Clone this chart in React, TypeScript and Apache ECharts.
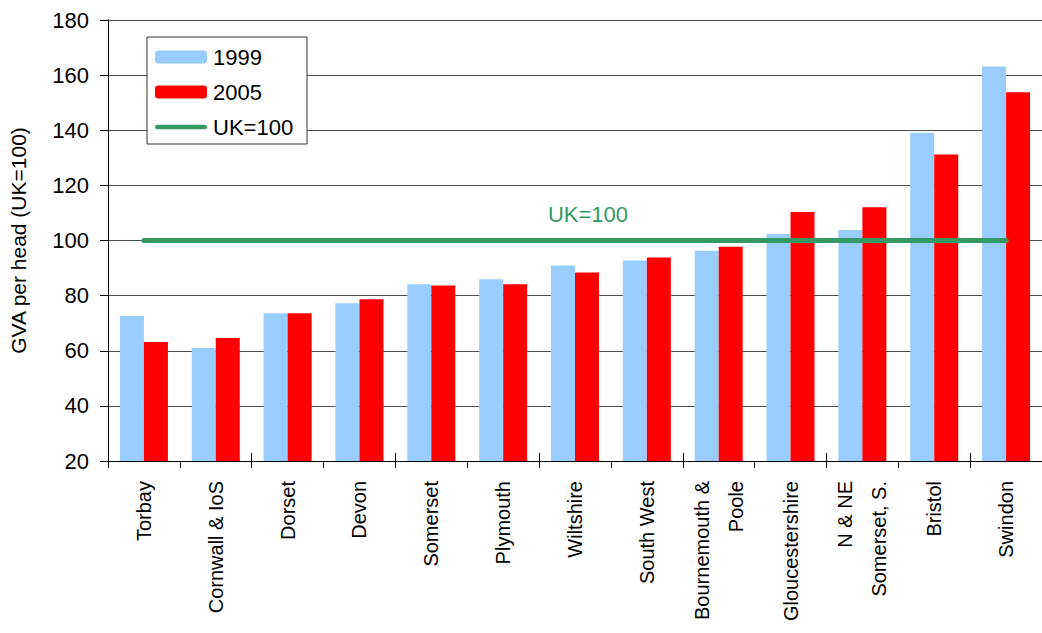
import React, { useEffect, useRef } from "react";
import * as echarts from "echarts";

const categories = [
  "Torbay",
  "Cornwall & IoS",
  "Dorset",
  "Devon",
  "Somerset",
  "Plymouth",
  "Wiltshire",
  "South West",
  "Bournemouth &\nPoole",
  "Gloucestershire",
  "N & NE\nSomerset, S.",
  "Bristol",
  "Swindon",
];
const values1999 = [72.6, 61, 73.6, 77.2, 84.1, 85.9, 90.9, 92.7, 96.3, 102.4, 103.8, 139.1, 163.1];
const values2005 = [63.2, 64.6, 73.6, 78.7, 83.7, 84.1, 88.4, 93.8, 97.7, 110.3, 112.1, 131.2, 153.8];
const ukLine = [100, 100, 100, 100, 100, 100, 100, 100, 100, 100, 100, 100, 100];
const yTicks = { min: 20, max: 180, interval: 20 };
const ukLabelIndex = 6;

const FONT = "'Liberation Sans', Arial, sans-serif";
const GREEN = "#359966";
const LINE_ICON =
  "path://M2.5,0 L53.5,0 A2.5,2.5 0 0 1 53.5,5 L2.5,5 A2.5,2.5 0 0 1 2.5,0 Z";

export default function App() {
  const ref = useRef<HTMLDivElement>(null);
  useEffect(() => {
    if (!ref.current) return;
    const chart = echarts.init(ref.current, undefined, { renderer: "svg" });
    chart.setOption({
      animation: false,
      textStyle: { fontFamily: FONT, color: "#000" },
      grid: { left: 107, top: 20, right: -6, bottom: 172, containLabel: false },
      graphic: [
        {
          type: "rect",
          z: 3,
          shape: { x: 147, y: 37, width: 160, height: 107 },
          style: { fill: "#fff", stroke: "#333", lineWidth: 1 },
        },
      ],
      legend: {
        z: 6,
        left: 155,
        top: 46,
        orient: "vertical",
        itemWidth: 52,
        itemHeight: 13,
        itemGap: 13,
        padding: 0,
        textStyle: { fontFamily: FONT, fontSize: 22, color: "#000", padding: [0, 0, 0, 1] },
        data: [
          "1999",
          "2005",
          { name: "UK=100", icon: LINE_ICON, itemStyle: { color: GREEN } },
        ],
      },
      xAxis: [
        {
          type: "category",
          data: categories,
          position: "bottom",
          axisLine: { lineStyle: { color: "#000", width: 1 } },
          axisTick: { show: true, length: 7, lineStyle: { color: "#000" } },
          axisLabel: {
            interval: 0,
            rotate: 90,
            margin: 20,
            fontSize: 20,
            color: "#000",
            fontFamily: FONT,
            lineHeight: 34,
          },
          splitLine: { show: false },
        },
        {
          type: "category",
          data: categories,
          position: "bottom",
          axisLine: { show: false },
          axisTick: { show: true, inside: true, length: 8, lineStyle: { color: "#000" } },
          axisLabel: { show: false },
          splitLine: { show: false },
        },
      ],
      yAxis: {
        type: "value",
        min: yTicks.min,
        max: yTicks.max,
        interval: yTicks.interval,
        name: "GVA per head (UK=100)",
        nameLocation: "middle",
        nameRotate: 90,
        nameGap: 79,
        nameTextStyle: { fontFamily: FONT, fontSize: 21, color: "#000" },
        axisLine: { show: true, lineStyle: { color: "#000", width: 1 } },
        axisTick: { show: true, length: 8, lineStyle: { color: "#000" } },
        axisLabel: { margin: 19, fontSize: 22, color: "#000", fontFamily: FONT },
        splitLine: { show: true, lineStyle: { color: "#4d4d4d", width: 1 } },
      },
      series: [
        {
          name: "1999",
          type: "bar",
          data: values1999,
          barWidth: 24,
          barGap: "0%",
          itemStyle: { color: "#99CCFF" },
          z: 2,
        },
        {
          name: "2005",
          type: "bar",
          data: values2005,
          barWidth: 24,
          barGap: "0%",
          itemStyle: { color: "#FF0000" },
          z: 2,
        },
        {
          name: "UK=100",
          type: "line",
          data: ukLine,
          symbol: "none",
          lineStyle: { color: GREEN, width: 5, cap: "round" },
          itemStyle: { color: GREEN },
          z: 4,
          markPoint: {
            silent: true,
            symbol: "circle",
            symbolSize: 1,
            itemStyle: { color: "rgba(0,0,0,0)" },
            data: [
              {
                coord: [ukLabelIndex, ukLine[ukLabelIndex]],
                label: {
                  show: true,
                  position: "top",
                  distance: 0,
                  offset: [13, -15],
                  formatter: "UK=100",
                  color: GREEN,
                  fontSize: 22,
                  fontFamily: FONT,
                },
              },
            ],
          },
        },
      ],
    });
    return () => chart.dispose();
  }, []);
  return (
    <div
      ref={ref}
      style={{ position: "fixed", left: 0, top: 0, width: 1042, height: 633, background: "#fff" }}
    />
  );
}
